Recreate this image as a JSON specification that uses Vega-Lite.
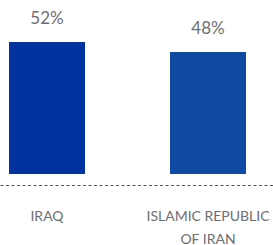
{
  "$schema": "https://vega.github.io/schema/vega-lite/v6.json",
  "width": 273,
  "height": 174,
  "padding": {"top": 0, "left": 0, "right": 0, "bottom": 71},
  "autosize": {"type": "none"},
  "background": "white",
  "data": {"values": [
    {"country": "IRAQ", "value": 52, "label": "52%"},
    {"country": "ISLAMIC REPUBLIC\nOF IRAN", "value": 48, "label": "48%"}
  ]},
  "encoding": {
    "x": {
      "field": "country", "type": "nominal", "sort": null,
      "scale": {"paddingInner": 0.528, "paddingOuter": 0.1118, "align": 0.25},
      "axis": {
        "title": null, "orient": "bottom", "offset": 11,
        "domainDash": [3, 2.5], "domainColor": "#3d4f9a", "domainWidth": 1,
        "ticks": false, "labelAngle": 0, "labelPadding": 24,
        "labelExpr": "split(datum.label, '\\n')",
        "labelLineHeight": 23, "labelFont": "Lato", "labelFontSize": 14,
        "labelColor": "#6d6e71", "labelBaseline": "top"
      }
    },
    "y": {
      "field": "value", "type": "quantitative",
      "scale": {"domain": [0, 68.5], "nice": false},
      "axis": null
    }
  },
  "layer": [
    {
      "mark": {"type": "bar"},
      "encoding": {
        "color": {
          "field": "country", "type": "nominal", "sort": null,
          "scale": {"range": ["#00339f", "#0f4aa3"]},
          "legend": null
        }
      }
    },
    {
      "mark": {"type": "text", "baseline": "alphabetic", "dy": -18, "font": "Lato", "fontSize": 17, "color": "#6d6e71"},
      "encoding": {"text": {"field": "label"}}
    }
  ],
  "config": {"view": {"stroke": null}}
}
